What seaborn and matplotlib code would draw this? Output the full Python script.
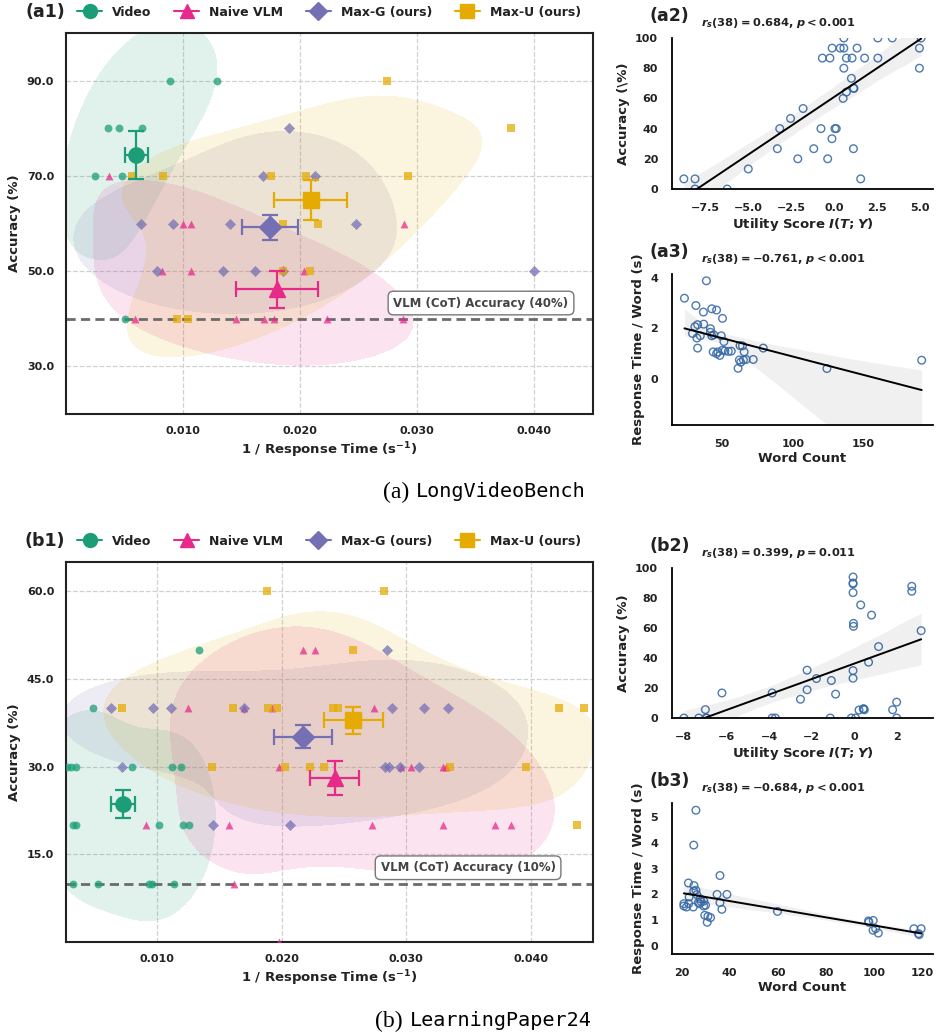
import numpy as np
import pandas as pd
import matplotlib
matplotlib.use("Agg")
import matplotlib.pyplot as plt
import seaborn as sns
from matplotlib.lines import Line2D
from matplotlib.colors import ListedColormap
from matplotlib.collections import PathCollection, PolyCollection
from matplotlib.ticker import FormatStrFormatter

# ---------------- data ----------------
methods = ["Video", "Naive VLM", "Max-G (ours)", "Max-U (ours)"]
colors = ["#1b9e77", "#e7298a", "#7570b3", "#e6ab02"]
markers = ["o", "^", "D", "s"]

# (a1) LongVideoBench: per-question points (1/RT, accuracy)
a1_video_x = [0.0089, 0.0129, 0.0036, 0.0045, 0.0065, 0.0025, 0.0048, 0.0050]
a1_video_y = [90, 90, 80, 80, 80, 70, 70, 40]
a1_naive_x = [0.0037, 0.0100, 0.0107, 0.0289, 0.0082, 0.0107, 0.0203,
              0.0059, 0.0145, 0.0169, 0.0178, 0.0223, 0.0288]
a1_naive_y = [70, 60, 60, 60, 50, 50, 50, 40, 40, 40, 40, 40, 40]
a1_maxg_x = [0.0190, 0.0168, 0.0213, 0.0064, 0.0091, 0.0140, 0.0248,
             0.0078, 0.0134, 0.0161, 0.0185, 0.0400]
a1_maxg_y = [80, 70, 70, 60, 60, 60, 60, 50, 50, 50, 50, 50]
a1_maxu_x = [0.0274, 0.0380, 0.0056, 0.0083, 0.0175, 0.0205, 0.0292,
             0.0185, 0.0215, 0.0185, 0.0208, 0.0095, 0.0104]
a1_maxu_y = [90, 80, 70, 70, 70, 70, 70, 60, 60, 50, 50, 40, 40]
# group means and errors: x, y, xerr, yerr
a1_mean_x = [0.0060, 0.0180, 0.0174, 0.0209]
a1_mean_y = [74.4, 46.2, 59.2, 64.9]
a1_err_x = [0.0010, 0.0035, 0.0024, 0.0031]
a1_err_y = [5.0, 3.9, 2.6, 4.2]
a1_baseline = 40

# (b1) LearningPaper24
b1_video_x = [0.0134, 0.0049, 0.0028, 0.0031, 0.0035, 0.0080, 0.0112, 0.0119,
              0.0033, 0.0035, 0.0102, 0.0121, 0.0126,
              0.0033, 0.0053, 0.0094, 0.0096, 0.0114]
b1_video_y = [50, 40, 30, 30, 30, 30, 30, 30, 20, 20, 20, 20, 20, 10, 10, 10, 10, 10]
b1_naive_x = [0.0217, 0.0227, 0.0125, 0.0170, 0.0192, 0.0274, 0.0198, 0.0296,
              0.0304, 0.0330, 0.0332, 0.0091, 0.0158, 0.0273, 0.0330, 0.0371,
              0.0384, 0.0162, 0.0198]
b1_naive_y = [50, 50, 40, 40, 40, 40, 30, 30, 30, 30, 30, 20, 20, 20, 20, 20, 20, 10, 0]
b1_maxg_x = [0.0285, 0.0063, 0.0097, 0.0111, 0.0170, 0.0289, 0.0314, 0.0334,
             0.0072, 0.0283, 0.0286, 0.0295, 0.0310, 0.0145, 0.0207]
b1_maxg_y = [50, 40, 40, 40, 40, 40, 40, 40, 30, 30, 30, 30, 30, 20, 20]
b1_maxu_x = [0.0188, 0.0282, 0.0257, 0.0072, 0.0161, 0.0189, 0.0196, 0.0241,
             0.0245, 0.0423, 0.0443, 0.0144, 0.0203, 0.0223, 0.0234, 0.0335,
             0.0396, 0.0437]
b1_maxu_y = [60, 60, 50, 40, 40, 40, 40, 40, 40, 40, 40, 30, 30, 30, 30, 30, 30, 20]
b1_mean_x = [0.00728, 0.02427, 0.02174, 0.02576]
b1_mean_y = [23.6, 28.1, 35.1, 37.9]
b1_err_x = [0.00093, 0.00196, 0.00234, 0.00235]
b1_err_y = [2.4, 2.9, 2.0, 2.3]
b1_baseline = 10

# (a2) utility score vs accuracy
a2_util = [-8.75, -8.10, -8.10, -6.23, -5.00, -3.31, -3.17, -2.54, -2.12, -1.81,
           -1.19, -0.77, -0.69, -0.38, -0.25, -0.13, -0.12, 0.04, 0.12, 0.35,
           0.56, 0.56, 0.56, 0.52, 0.71, 0.71, 1.00, 1.04, 1.12, 1.12,
           1.33, 1.54, 1.77, 2.54, 2.54, 3.38, 4.96, 4.96, 5.06, 1.15]
a2_acc = [6.7, 6.7, 0, 0, 13.3, 26.7, 40, 46.7, 20, 53.3,
          26.7, 40, 86.7, 20, 86.7, 33.3, 93.3, 40, 40, 93.3,
          100, 93.3, 80, 60, 64.2, 86.7, 73.3, 86.7, 66.7, 26.7,
          93.3, 6.7, 86.7, 100, 86.7, 100, 93.3, 80, 100, 66.7]

# (a3) word count vs response time per word
a3_words = [23.3, 38.8, 31.4, 36.7, 42.6, 46.0, 50.2, 29.0, 30.7, 32.6,
            36.9, 34.5, 32.1, 32.6, 41.7, 41.7, 42.6, 44.0, 49.3, 51.2,
            43.6, 46.9, 48.3, 50.2, 51.9, 54.3, 56.4, 64.3, 65.5, 62.1,
            63.1, 61.2, 65.0, 66.9, 71.9, 79.0, 124.0, 191.0, 46.0, 62.6]
a3_rtw = [3.20, 3.89, 2.91, 2.65, 2.78, 2.73, 2.40, 1.80, 2.07, 2.15,
          2.17, 1.71, 1.62, 1.22, 1.99, 1.85, 1.71, 1.75, 1.71, 1.48,
          1.07, 1.07, 0.93, 1.14, 1.11, 1.09, 1.10, 1.31, 1.07, 0.75,
          0.66, 0.42, 0.75, 0.77, 0.77, 1.22, 0.41, 0.74, 1.00, 1.32]

# (b2)
b2_util = [-8.00, -7.30, -6.99, -6.93, -6.21, -3.85, -3.85, -3.70, -2.52, -2.21,
           -2.21, -1.77, -1.07, -1.12, -0.87, -0.05, -0.05, -0.05, -0.05, -0.03,
           -0.03, -0.05, -0.05, -0.13, 0.07, 0.23, 0.43, 0.48, 0.31, 0.68,
           0.82, 1.15, 1.81, 2.00, 2.00, 2.71, 2.71, 3.15, -6.96, 0.45]
b2_acc = [0, 0, 5.6, 0, 16.7, 16.7, 0, 0, 12.5, 31.9,
          18.8, 26.3, 25.0, 0, 15.9, 94.0, 90.0, 89.4, 83.6, 63.1,
          61.1, 31.6, 26.5, 0, 0, 5.3, 6.0, 5.5, 75.4, 37.2,
          68.6, 47.6, 5.5, 10.6, 0, 87.8, 84.5, 58.2, 0, 6.2]

# (b3)
b3_words = [26.0, 25.1, 36.0, 22.9, 25.2, 26.0, 25.1, 26.4, 23.2, 34.8,
            38.9, 27.8, 29.3, 27.0, 36.0, 36.8, 21.0, 21.0, 22.1, 23.0,
            24.9, 27.5, 30.0, 29.2, 29.7, 31.0, 32.1, 30.7, 59.9, 97.7,
            99.7, 99.6, 100.7, 101.8, 116.6, 118.5, 118.8, 119.6, 97.9, 28.2]
b3_rtw = [5.26, 3.91, 2.73, 2.44, 2.34, 2.16, 2.13, 1.99, 1.90, 2.00,
          2.00, 1.83, 1.74, 1.68, 1.68, 1.42, 1.64, 1.55, 1.51, 1.64,
          1.51, 1.64, 1.58, 1.55, 1.19, 1.15, 1.10, 0.92, 1.34, 0.97,
          0.99, 0.61, 0.67, 0.50, 0.67, 0.48, 0.44, 0.67, 0.92, 1.71]

# ---------------- style ----------------
sns.set_theme(style="white")
plt.rcParams.update({
    "font.family": ["DejaVu Sans"],
    "font.weight": "bold",
    "axes.labelweight": "bold",
    "mathtext.fontset": "custom",
    "mathtext.rm": "DejaVu Sans:bold",
    "mathtext.it": "DejaVu Sans:italic:bold",
    "mathtext.bf": "DejaVu Sans:bold",
    "text.color": "#222222",
    "axes.labelcolor": "#222222",
    "xtick.color": "#222222",
    "ytick.color": "#222222",
})

fig = plt.figure(figsize=(9.36, 10.36), dpi=100)
W, H = 936.0, 1036.0


def add_ax(left, top, right, bottom):
    return fig.add_axes([left / W, 1 - bottom / H, (right - left) / W, (bottom - top) / H])


ax_a1 = add_ax(66, 33, 593, 414)
ax_b1 = add_ax(66, 562, 593, 942)
ax_a2 = add_ax(672, 38, 933, 189)
ax_a3 = add_ax(672, 274, 933, 425)
ax_b2 = add_ax(672, 568, 933, 718)
ax_b3 = add_ax(672, 803, 933, 954)

mean_ms = [11, 12, 11, 11]


def main_panel(ax, groups, mx, my, ex, ey, baseline, xlim, ylim, yticks,
               tag, box_x, box_dy):
    for (gx, gy), c in zip(groups, colors):
        df = pd.DataFrame({"x": gx, "y": gy})
        sns.kdeplot(data=df, x="x", y="y", fill=True, levels=2, thresh=0.4,
                    bw_adjust=1.25, cmap=ListedColormap([c]), alpha=0.13,
                    ax=ax, zorder=1)
    ax.axhline(baseline, color="#6b6b6b", ls="--", lw=2.0, dashes=(3.3, 1.9), zorder=2)
    for (gx, gy), c, m in zip(groups, colors, markers):
        sns.scatterplot(x=gx, y=gy, marker=m, color=c, s=32, alpha=0.75,
                        linewidth=0, ax=ax, zorder=3)
    for i, (c, m) in enumerate(zip(colors, markers)):
        ax.errorbar(mx[i], my[i], xerr=ex[i], yerr=ey[i], fmt=m, color=c,
                    ms=mean_ms[i], capsize=6, elinewidth=1.6, capthick=1.6,
                    zorder=6)
    ax.set_xlim(*xlim)
    ax.set_ylim(*ylim)
    ax.set_xticks([0.010, 0.020, 0.030, 0.040])
    ax.set_yticks(yticks)
    ax.xaxis.set_major_formatter(FormatStrFormatter("%.3f"))
    ax.yaxis.set_major_formatter(FormatStrFormatter("%.1f"))
    ax.tick_params(labelsize=8, length=0, pad=8.5)
    ax.grid(True, ls="--", color="#d0d0d0", lw=0.9)
    for s in ax.spines.values():
        s.set_color("#222222")
        s.set_linewidth(1.5)
    ax.set_xlabel("1 / Response Time (s$^{-1}$)", fontsize=9.5, labelpad=3)
    ax.set_ylabel("Accuracy (%)", fontsize=9.5, labelpad=4)
    ax.annotate(f"VLM (CoT) Accuracy ({baseline}%)", xy=(box_x, baseline + box_dy),
                xycoords=("axes fraction", "data"), ha="center", va="center",
                fontsize=8.5, fontweight="bold", color="#444444", zorder=7,
                bbox=dict(boxstyle="round,pad=0.45", fc="white", ec="#777777", lw=1.0))
    handles = [Line2D([], [], color=c, marker=m, ms=(9 if m == "D" else 10), lw=1.5)
               for c, m in zip(colors, markers)]
    ax.legend(handles, methods, loc="center left", bbox_to_anchor=(0.012, 1.055),
              ncol=4, frameon=False, handlelength=2.0, columnspacing=1.8,
              handletextpad=0.8, borderaxespad=0, prop={"weight": "bold", "size": 9})
    ax.text(-0.04, 1.055, tag, transform=ax.transAxes, ha="center", va="center",
            fontsize=12.5, fontweight="bold")


main_panel(ax_a1,
           [(a1_video_x, a1_video_y), (a1_naive_x, a1_naive_y),
            (a1_maxg_x, a1_maxg_y), (a1_maxu_x, a1_maxu_y)],
           a1_mean_x, a1_mean_y, a1_err_x, a1_err_y, a1_baseline,
           (0.0, 0.045), (20, 100), [30, 50, 70, 90], "(a1)", 0.7875, 3.3)
main_panel(ax_b1,
           [(b1_video_x, b1_video_y), (b1_naive_x, b1_naive_y),
            (b1_maxg_x, b1_maxg_y), (b1_maxu_x, b1_maxu_y)],
           b1_mean_x, b1_mean_y, b1_err_x, b1_err_y, b1_baseline,
           (0.0027, 0.045), (0, 65), [15, 30, 45, 60], "(b1)", 0.763, 2.7)

blue = "#3a6ca8"


def corr_panel(ax, x, y, xlabel, ylabel, tag, stat, xlim=None, ylim=None, yticks=None):
    sns.regplot(x=x, y=y, ax=ax, color=blue, seed=0,
                scatter_kws=dict(facecolors="none", edgecolors=blue, s=30,
                                 linewidths=1.0, alpha=0.9),
                line_kws=dict(color="black", lw=1.4))
    for coll in ax.collections:
        if isinstance(coll, PolyCollection) and not isinstance(coll, PathCollection):
            coll.set_alpha(0.06)
    sns.despine(ax=ax)
    for s in ["left", "bottom"]:
        ax.spines[s].set_color("black")
        ax.spines[s].set_linewidth(1.3)
    if xlim is not None:
        ax.set_xlim(*xlim)
    if ylim is not None:
        ax.set_ylim(*ylim)
    if yticks is not None:
        ax.set_yticks(yticks)
    ax.tick_params(labelsize=8, pad=4)
    ax.set_xlabel(xlabel, fontsize=9.5, labelpad=2)
    ax.set_ylabel(ylabel, fontsize=9.5, labelpad=4)
    ax.text(-0.01, 1.145, tag, transform=ax.transAxes, ha="center", va="center",
            fontsize=12.5, fontweight="bold")
    ax.text(0.11, 1.098, stat, transform=ax.transAxes, ha="left", va="center",
            fontsize=8.2)


corr_panel(ax_a2, a2_util, a2_acc, "Utility Score $I(T;Y)$", "Accuracy (\\%)",
           "(a2)", r"$r_s(38) = 0.684$, $p < 0.001$", ylim=(0, 100))
corr_panel(ax_a3, a3_words, a3_rtw, "Word Count", "Response Time / Word (s)",
           "(a3)", r"$r_s(38) = -0.761$, $p < 0.001$",
           xlim=(14.5, 199), ylim=(-1.83, 4.16), yticks=[0, 2, 4])
corr_panel(ax_b2, b2_util, b2_acc, "Utility Score $I(T;Y)$", "Accuracy (%)",
           "(b2)", r"$r_s(38) = 0.399$, $p = 0.011$", ylim=(0, 100))
corr_panel(ax_b3, b3_words, b3_rtw, "Word Count", "Response Time / Word (s)",
           "(b3)", r"$r_s(38) = -0.684$, $p < 0.001$",
           ylim=(-0.31, 5.54), yticks=[0, 1, 2, 3, 4, 5])

# captions
for lab, name, xname, ycen in [("(a)", "LongVideoBench", 416, 492),
                                ("(b)", "LearningPaper24", 410, 1021)]:
    fig.text((xname - 7) / W, 1 - ycen / H, lab, ha="right", va="center",
             family="Liberation Serif", fontweight="normal", fontsize=17, color="black")
    fig.text(xname / W, 1 - ycen / H, name, ha="left", va="center",
             family="DejaVu Sans Mono", fontweight="normal", fontsize=14.5, color="black")

fig.savefig("out.png", dpi=100)
